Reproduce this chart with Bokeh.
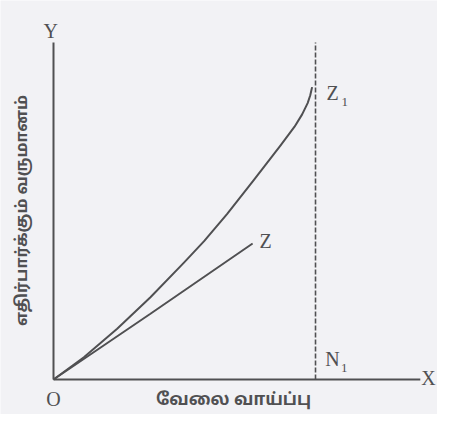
from bokeh.plotting import figure
from bokeh.embed import file_html
from bokeh.resources import INLINE
from bokeh.core.properties import value

# Curve O -> Z1
curve_z1_x = [0, 1.16, 2.43, 3.70, 4.97, 5.74, 6.63, 7.65, 8.66, 9.20, 9.49, 9.70, 9.80, 9.87]
curve_z1_y = [0, 0.85, 1.94, 3.14, 4.45, 5.27, 6.32, 7.62, 8.93, 9.65, 10.12, 10.55, 10.85, 11.16]

# Curve O -> Z (almost straight)
curve_z_x = [0, 3.70, 7.60]
curve_z_y = [0, 2.51, 5.19]

# Full employment level N1 and axis extents
n1_x = 10.0
y_axis_top = 12.86
x_axis_end = 14.0

x_title = "வேலை வாய்ப்பு"
y_title = "எதிர்பார்க்கும் வருமானம்"

ink = "#505052"
bg = "#f2f2f5"

p = figure(width=437, height=414, x_range=(-2.023, 14.656), y_range=(-1.336, 14.466),
           output_backend="svg", toolbar_location=None, min_border=0,
           background_fill_color=bg, border_fill_color=bg)
p.axis.visible = False
p.grid.visible = False
p.outline_line_color = None

# axes
p.line([0, 0], [0, y_axis_top], line_color=ink, line_width=2)
p.line([0, x_axis_end], [0, 0], line_color=ink, line_width=2)

# dashed full-employment line
p.line([n1_x, n1_x], [0, y_axis_top], line_color=ink, line_width=1.6, line_dash="5 2")

# curves
p.line(curve_z1_x, curve_z1_y, line_color=ink, line_width=2, line_join="round")
p.line(curve_z_x, curve_z_y, line_color=ink, line_width=2)

serif = value("Liberation Serif")
def lab(x, y, t, size="20px"):
    p.text([x], [y], text=[t], text_font=serif, text_font_size=size,
           text_color=ink, text_align="center", text_baseline="middle")

lab(-0.11, 13.32, "Y")
lab(0.0, -0.73, "O")
lab(14.31, 0.04, "X")
lab(10.65, 10.95, "Z")
lab(11.12, 10.6, "1", "13px")
lab(8.1, 5.3, "Z")
lab(10.65, 0.8, "N")
lab(11.1, 0.45, "1", "13px")

tamil = value("Noto Sans Tamil, Noto Sans, sans-serif")
p.text([6.87], [-0.82], text=[x_title], text_font=tamil, text_font_size="17px",
       text_font_style="bold", text_color=ink, text_align="center", text_baseline="middle")
p.text([-1.15], [6.45], text=[y_title], text_font=tamil, text_font_size="16px",
       text_font_style="bold", text_color=ink, text_align="center", text_baseline="middle",
       angle=1.5708)

open("out.html", "w").write(file_html(p, INLINE))
